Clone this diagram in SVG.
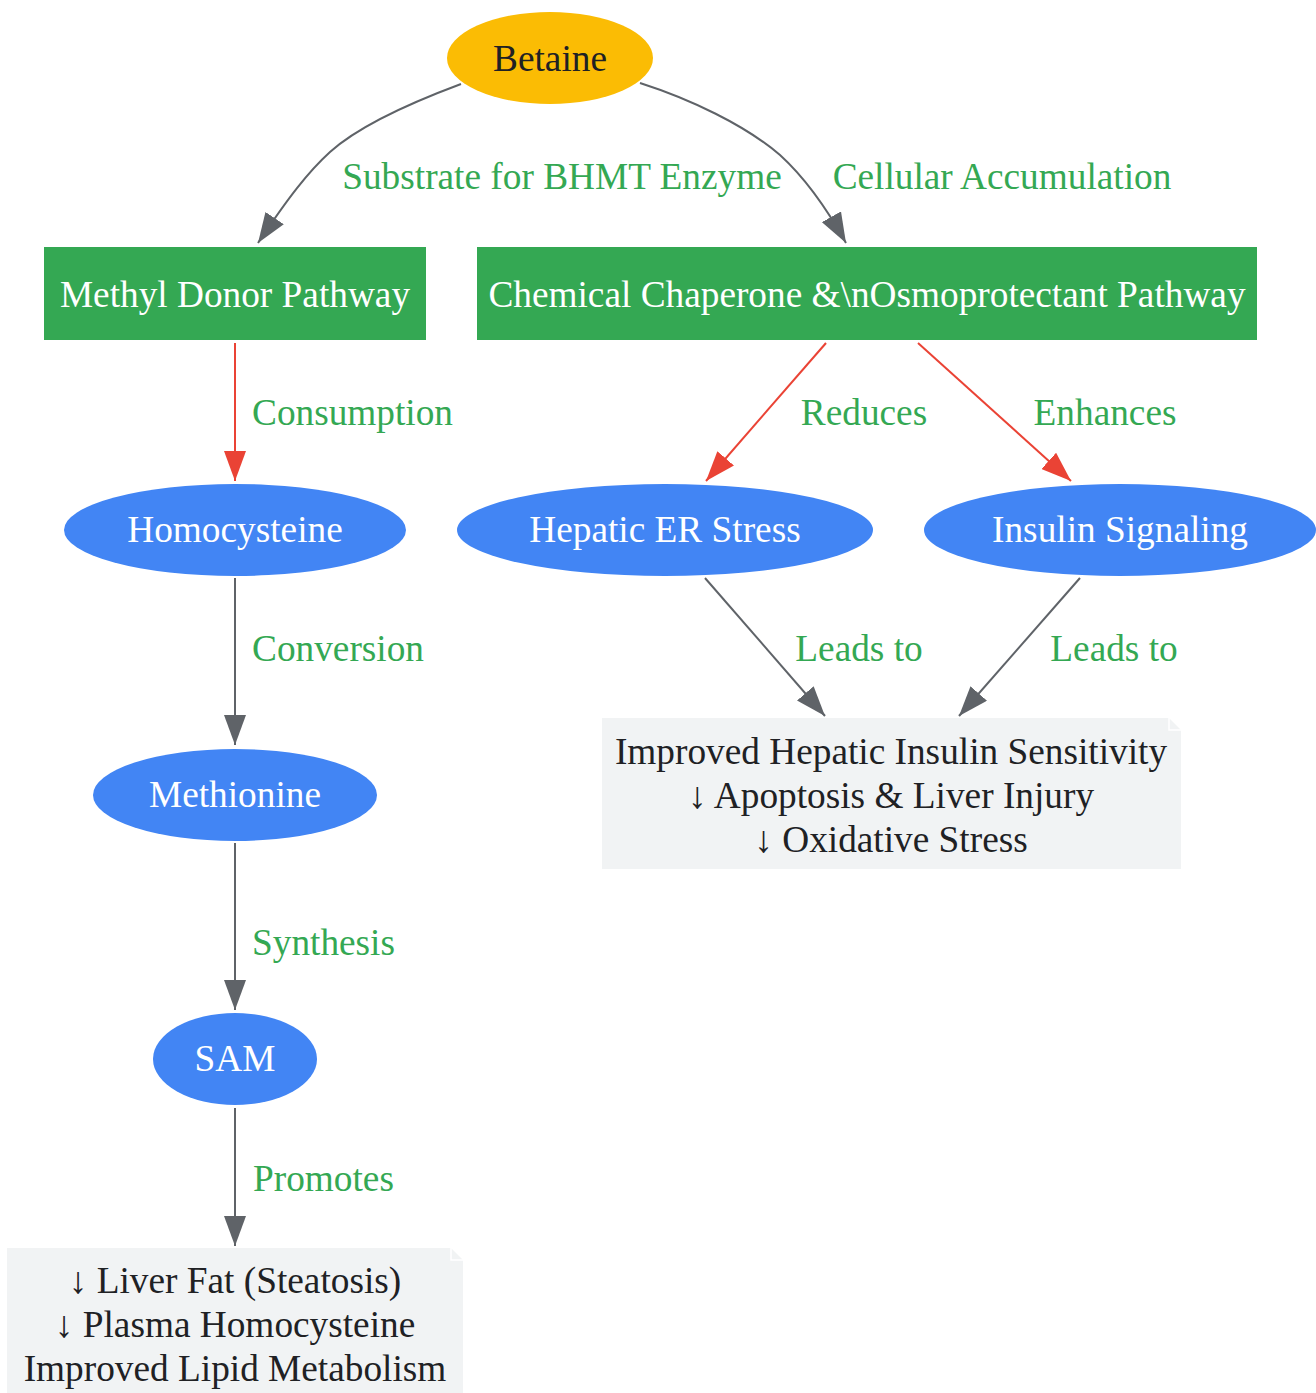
<svg xmlns="http://www.w3.org/2000/svg" width="1316" height="1393" viewBox="0 0 1316 1393">
<style>
text{font-family:"Liberation Serif","Times New Roman",serif;font-size:37.3px;text-anchor:middle}
.lbl{fill:#34A853}
.lbl-l{fill:#34A853;text-anchor:start}
.wt{fill:#FFFFFF}
.dk{fill:#202124}
.g{fill:none;stroke:#5F6368;stroke-width:2}
.r{fill:none;stroke:#EA4335;stroke-width:2}
.box{fill:#34A853}
.ell{fill:#4285F4}
.note{fill:#F1F3F4}
</style>
<defs>
<marker id="ag" viewBox="0 0 30 22" refX="30" refY="11" markerWidth="30" markerHeight="22" markerUnits="userSpaceOnUse" orient="auto"><path d="M0,0 L30,11 L0,22 z" fill="#5F6368"/></marker>
<marker id="ar" viewBox="0 0 30 22" refX="30" refY="11" markerWidth="30" markerHeight="22" markerUnits="userSpaceOnUse" orient="auto"><path d="M0,0 L30,11 L0,22 z" fill="#EA4335"/></marker>
</defs>
<rect width="1316" height="1393" fill="#FFFFFF"/>
<g id="connectors">
<path class="g" d="M461,84 C410,103 360,125 330,152 C308,172 288,198 258,243" marker-end="url(#ag)"/>
<path class="g" d="M640,83 C690,99 745,125 780,155 C802,175 822,200 846,243" marker-end="url(#ag)"/>
<path class="r" d="M235,343 L235,481" marker-end="url(#ar)"/>
<path class="r" d="M826,343 L706,481" marker-end="url(#ar)"/>
<path class="r" d="M918,343 L1071,481" marker-end="url(#ar)"/>
<path class="g" d="M235,578 L235,745" marker-end="url(#ag)"/>
<path class="g" d="M705,578 L825,716" marker-end="url(#ag)"/>
<path class="g" d="M1080,578 L959,716" marker-end="url(#ag)"/>
<path class="g" d="M235,843 L235,1010" marker-end="url(#ag)"/>
<path class="g" d="M235,1108 L235,1246" marker-end="url(#ag)"/>
<text class="lbl" x="562" y="189">Substrate for BHMT Enzyme</text>
<text class="lbl" x="1002" y="189">Cellular Accumulation</text>
<text class="lbl-l" x="252" y="425">Consumption</text>
<text class="lbl" x="864" y="425">Reduces</text>
<text class="lbl" x="1105" y="425">Enhances</text>
<text class="lbl-l" x="252" y="661">Conversion</text>
<text class="lbl" x="859" y="661">Leads to</text>
<text class="lbl" x="1114" y="661">Leads to</text>
<text class="lbl-l" x="252" y="955">Synthesis</text>
<text class="lbl-l" x="253" y="1191">Promotes</text>
</g>
<g id="betaine">
<ellipse cx="550" cy="58" rx="103" ry="46" fill="#FBBC04"/>
<text class="dk" x="550" y="71">Betaine</text>
</g>
<g id="methyl">
<rect class="box" x="44" y="247" width="382" height="93"/>
<text class="wt" x="235" y="307">Methyl Donor Pathway</text>
</g>
<g id="chaperone">
<rect class="box" x="477" y="247" width="780" height="93"/>
<text class="wt" x="867" y="307">Chemical Chaperone &amp;\nOsmoprotectant Pathway</text>
</g>
<g id="homocysteine">
<ellipse class="ell" cx="235" cy="530" rx="171" ry="46"/>
<text class="wt" x="235" y="542">Homocysteine</text>
</g>
<g id="er_stress">
<ellipse class="ell" cx="665" cy="530" rx="208" ry="46"/>
<text class="wt" x="665" y="542">Hepatic ER Stress</text>
</g>
<g id="insulin">
<ellipse class="ell" cx="1120" cy="530" rx="196" ry="46"/>
<text class="wt" x="1120" y="542">Insulin Signaling</text>
</g>
<g id="methionine">
<ellipse class="ell" cx="235" cy="795" rx="142" ry="46"/>
<text class="wt" x="235" y="807">Methionine</text>
</g>
<g id="sam">
<ellipse class="ell" cx="235" cy="1059" rx="82" ry="46"/>
<text class="wt" x="235" y="1071">SAM</text>
</g>
<g id="outcome_right">
<path class="note" d="M602,718 L1169,718 L1181,730 L1181,869 L602,869 z"/>
<path d="M1169,718 L1169,730 L1181,730" fill="none" stroke="#FFFFFF" stroke-width="1.5"/>
<text class="dk" x="891" y="764">Improved Hepatic Insulin Sensitivity</text>
<text class="dk" x="891" y="808">↓ Apoptosis &amp; Liver Injury</text>
<text class="dk" x="891" y="852">↓ Oxidative Stress</text>
</g>
<g id="outcome_left">
<path class="note" d="M7,1248 L451,1248 L463,1260 L463,1393 L7,1393 z"/>
<path d="M451,1248 L451,1260 L463,1260" fill="none" stroke="#FFFFFF" stroke-width="1.5"/>
<text class="dk" x="235" y="1293">↓ Liver Fat (Steatosis)</text>
<text class="dk" x="235" y="1337">↓ Plasma Homocysteine</text>
<text class="dk" x="235" y="1381">Improved Lipid Metabolism</text>
</g>
</svg>
